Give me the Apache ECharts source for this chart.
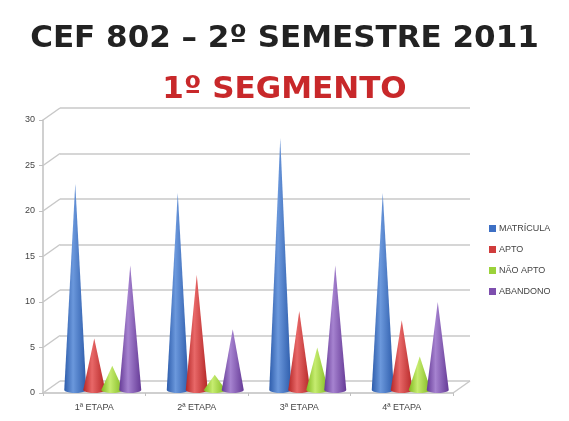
<!DOCTYPE html>
<html>
<head>
    <meta charset="utf-8">
    <script src="https://cdn.jsdelivr.net/npm/echarts@6/dist/echarts.min.js"></script>
</head>
<style type="text/css">
    html, body { margin: 0; padding: 0; background: #fff; }
</style>
<body>
<div style="width: 569px;height: 421px;" id="chart"></div>
<script>

let chart = echarts.init(document.getElementById('chart'));

// data
let categories = ['1ª ETAPA', '2ª ETAPA', '3ª ETAPA', '4ª ETAPA'];
let matricula = [23, 22, 28, 22];
let apto = [6, 13, 9, 8];
let naoApto = [3, 2, 5, 4];
let abandono = [14, 7, 14, 10];
let yTicks = [0, 5, 10, 15, 20, 25, 30];

let seriesDefs = [
    {name: 'MATRÍCULA', data: matricula, dark: '#2d5cab', light: '#6b98dc', legend: '#3d6fc4'},
    {name: 'APTO', data: apto, dark: '#b42626', light: '#e86868', legend: '#d03c3c'},
    {name: 'NÃO APTO', data: naoApto, dark: '#7fb81e', light: '#c6ec70', legend: '#9bd23a'},
    {name: 'ABANDONO', data: abandono, dark: '#653a96', light: '#a683d0', legend: '#7e4fae'}
];

// cone offsets (px) from the front category center
let offsets = [-19, 0, 18, 36];

function coneItem(k, def) {
    return (params, api) => {
        let idx = api.value(0);
        let val = api.value(1);
        let tip = api.coord([idx, val]);
        let base = api.coord([idx, 0]);
        let cx = tip[0] + offsets[k];
        let yb = base[1] - 3;
        let w = 22, eh = 3;
        let pts = [[cx, tip[1]], [cx + w / 2, yb]];
        for (let i = 1; i < 12; i++) {
            let t = Math.PI * i / 12;
            pts.push([cx + w / 2 * Math.cos(t), yb + eh * Math.sin(t)]);
        }
        pts.push([cx - w / 2, yb]);
        return {
            type: 'polygon',
            shape: {points: pts},
            style: {
                fill: new echarts.graphic.LinearGradient(0, 0, 1, 0, [
                    {offset: 0, color: def.dark},
                    {offset: 0.4, color: def.light},
                    {offset: 1, color: def.dark}
                ])
            }
        };
    };
}

let series = seriesDefs.map((def, k) => ({
    name: def.name,
    type: 'custom',
    xAxisIndex: 0,
    yAxisIndex: 0,
    itemStyle: {color: def.legend},
    renderItem: coneItem(k, def),
    data: def.data.map((v, i) => [i, v]),
    z: 10
}));

// diagonal lines of the left wall and the right edge of the floor
series.push({
    type: 'custom',
    xAxisIndex: 0,
    yAxisIndex: 0,
    silent: true,
    renderItem: (params, api) => {
        let v = api.value(0);
        let bw = api.size([1, 0])[0];
        let p = api.coord([0, v]);
        let x0 = p[0] - bw / 2;
        let kids = [{
            type: 'line',
            shape: {x1: x0, y1: p[1], x2: x0 + 17, y2: p[1] - 12},
            style: {stroke: '#c8c8c8', lineWidth: 1.5}
        }];
        if (v === 0) {
            let q = api.coord([categories.length - 1, 0]);
            let x1 = q[0] + bw / 2;
            kids.push({
                type: 'line',
                shape: {x1: x1, y1: q[1], x2: x1 + 17, y2: q[1] - 12},
                style: {stroke: '#c8c8c8', lineWidth: 1.5}
            });
        }
        return {type: 'group', children: kids};
    },
    data: yTicks.map(v => [v]),
    z: 2
});

let option = {
    animation: false,
    title: [
        {
            text: 'CEF 802 – 2º SEMESTRE 2011',
            left: 'center',
            top: 18,
            textStyle: {fontSize: 31, fontWeight: 'bold', color: '#222', fontFamily: 'DejaVu Sans'}
        },
        {
            text: '1º SEGMENTO',
            left: 'center',
            top: 69,
            textStyle: {fontSize: 31, fontWeight: 'bold', color: '#c8282a', fontFamily: 'DejaVu Sans'}
        }
    ],
    legend: {
        orient: 'vertical',
        left: 484,
        top: 219,
        itemWidth: 7,
        itemHeight: 7,
        itemGap: 12,
        icon: 'rect',
        data: seriesDefs.map(d => d.name),
        textStyle: {fontSize: 9, color: '#444', padding: [0, 0, 0, -2]}
    },
    grid: [
        {left: 43, right: 116, top: 120, bottom: 28},
        {left: 60, right: 99, top: 108, bottom: 40}
    ],
    xAxis: [
        {
            type: 'category',
            gridIndex: 0,
            data: categories,
            axisLine: {lineStyle: {color: '#c0c0c0', width: 1.5}},
            axisTick: {show: true, alignWithLabel: false, length: 3, lineStyle: {color: '#c0c0c0'}},
            axisLabel: {fontSize: 9, color: '#444', margin: 10}
        },
        {
            type: 'category',
            gridIndex: 1,
            data: categories,
            show: false
        }
    ],
    yAxis: [
        {
            type: 'value',
            gridIndex: 0,
            min: 0,
            max: 30,
            interval: 5,
            axisLine: {show: true, lineStyle: {color: '#c0c0c0', width: 1.5}},
            axisTick: {show: true, length: 4, lineStyle: {color: '#c0c0c0'}},
            axisLabel: {fontSize: 9, color: '#444', margin: 8},
            splitLine: {show: false}
        },
        {
            type: 'value',
            gridIndex: 1,
            min: 0,
            max: 30,
            interval: 5,
            axisLine: {show: false},
            axisTick: {show: false},
            axisLabel: {show: false},
            splitLine: {show: true, lineStyle: {color: '#c8c8c8', width: 1.5}}
        }
    ],
    series: series
};

chart.setOption(option);

</script>
</body>
</html>
